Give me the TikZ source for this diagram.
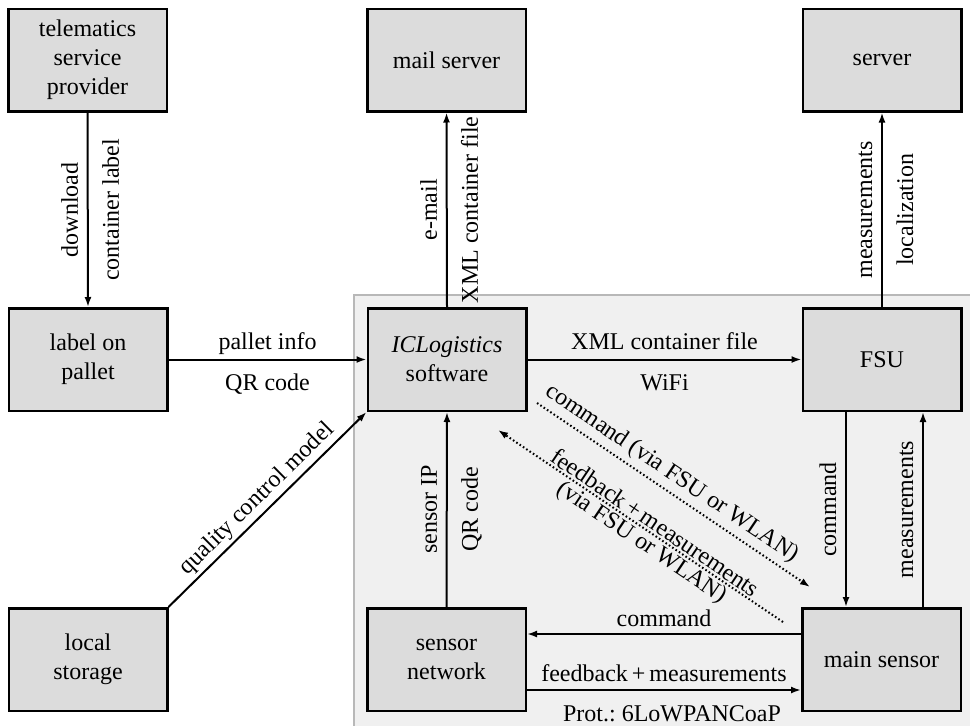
\documentclass[tikz,border=0pt]{standalone}
\usepackage{fontspec}
\setmainfont{Liberation Serif}
\usetikzlibrary{arrows.meta}
\definecolor{boxfill}{HTML}{DCDCDC}
\definecolor{bgfill}{HTML}{F0F0F0}
\definecolor{bgline}{HTML}{B8B8B8}
\frenchspacing
\begin{document}
\begin{tikzpicture}[x=1pt,y=-1pt,
  font=\fontsize{24}{29}\selectfont,
  box/.style={draw, line width=2.5pt, fill=boxfill, minimum width=158.5pt,
    minimum height=102.5pt, inner sep=0pt, align=center},
  arr/.style={line width=2pt, -{Latex[length=10pt,width=7pt]}},
  dotarr/.style={line width=2pt, dash pattern=on 1.6pt off 2.4pt,
    -{Latex[length=10pt,width=7pt]}},
  lab/.style={anchor=south, inner sep=0pt, text depth=9pt},
  lbe/.style={anchor=north, inner sep=0pt, text height=30pt, text depth=0pt}]
\useasboundingbox (0,0) rectangle (970,726);
\clip (0,0) rectangle (970,726);
\draw[fill=bgfill, draw=bgline, line width=2.5pt] (354,295) rectangle (995,750);

\node[box] (tsp) at (87.5,60) {telematics\\service\\provider};
\node[box] (mail) at (446.5,60) {mail server};
\node[box] (srv) at (882,60) {server};
\node[box] (pal) at (88,359.5) {label on\\pallet};
\node[box] (icl) at (447,359.5) {\textit{ICLogistics}\\software};
\node[box] (fsu) at (882,359.5) {FSU};
\node[box] (loc) at (88,659.5) {local\\storage};
\node[box] (sn) at (446.5,659.5) {sensor\\network};
\node[box] (ms) at (881.5,659.5) {main sensor};

\coordinate (cmdA) at (537,403);
\coordinate (cmdB) at (810,587);
\coordinate (fbA) at (498,430);
\coordinate (fbB) at (783,622);

% vertical connectors
\draw[arr] (tsp.south) -- (pal.north)
  node[midway, rotate=90, lab] {download}
  node[midway, rotate=90, lbe] {container label};
\draw[arr] (icl.north) -- (mail.south)
  node[midway, rotate=90, lab] {e-mail}
  node[midway, rotate=90, lbe] {XML container file};
\draw[arr] (fsu.north) -- (srv.south)
  node[midway, rotate=90, lab] {measurements}
  node[midway, rotate=90, lbe] {localization};
\draw[arr] (sn.north) -- (icl.south)
  node[midway, rotate=90, lab] {sensor IP}
  node[midway, rotate=90, lbe] {QR code};
\draw[arr] ([xshift=-36pt]fsu.south) -- ([xshift=-36pt]fsu.south |- ms.north)
  node[midway, rotate=90, lab] {command};
\draw[arr] ([xshift=41pt]fsu.south |- ms.north) -- ([xshift=41pt]fsu.south)
  node[midway, rotate=90, lab] {measurements};

% horizontal connectors
\draw[arr] (pal.east) -- (icl.west)
  node[midway, lab] {pallet info}
  node[midway, lbe] {QR code};
\draw[arr] (icl.east) -- (fsu.west)
  node[midway, lab] {XML container file}
  node[midway, lbe] {WiFi};
\draw[arr] ([yshift=25.5pt]ms.west) -- ([yshift=25.5pt]ms.west -| sn.east)
  node[midway, anchor=south, inner sep=0pt, text depth=7pt] {command};
\draw[arr] ([yshift=-30.5pt]sn.east) -- ([yshift=-30.5pt]sn.east -| ms.west)
  node[midway, lab, text depth=8pt] {feedback\,+\,measurements}
  node[midway, lbe, xshift=8pt] {Prot.: 6LoWPANCoaP};

% diagonal
\draw[arr] (loc.north east) -- (icl.south west)
  node[midway, sloped, anchor=south, inner sep=0pt, text depth=8pt] {quality control model};

% dotted
\draw[dotarr] (cmdA) -- (cmdB)
  node[pos=0.46, sloped, anchor=south, inner sep=0pt, text depth=10pt] {command (via FSU or WLAN)};
\draw[dotarr] (fbB) -- (fbA);
\path (fbA) -- (fbB)
  node[pos=0.53, sloped, anchor=south, inner sep=0pt, text depth=3pt] {feedback\,+\,measurements}
  node[pos=0.53, sloped, anchor=north, inner sep=0pt, text height=19pt, text depth=0pt] {(via FSU or WLAN)};
\end{tikzpicture}
\end{document}
